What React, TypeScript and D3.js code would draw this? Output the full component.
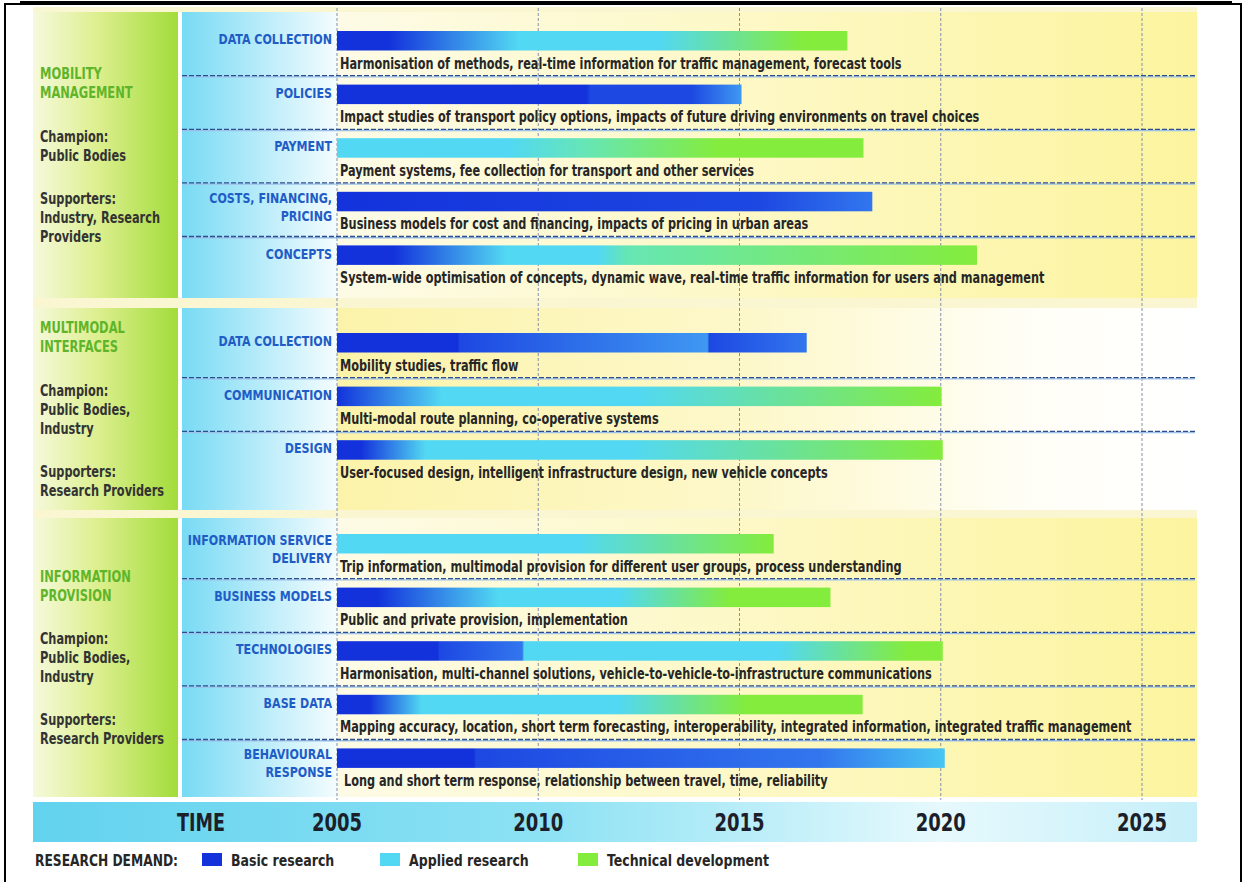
import React from "react";
import * as d3 from "d3";

// ---------------- DATA ----------------
const years = [2005, 2010, 2015, 2020, 2025];

const sectionTitles = [
  ["MOBILITY", "MANAGEMENT"],
  ["MULTIMODAL", "INTERFACES"],
  ["INFORMATION", "PROVISION"],
];
const sectionChampions = [
  ["Public Bodies"],
  ["Public Bodies,", "Industry"],
  ["Public Bodies,", "Industry"],
];
const sectionSupporters = [
  ["Industry, Research", "Providers"],
  ["Research Providers"],
  ["Research Providers"],
];

const themeSection = [0, 0, 0, 0, 0, 1, 1, 1, 2, 2, 2, 2, 2];
const themeLabels = [
  ["DATA COLLECTION"],
  ["POLICIES"],
  ["PAYMENT"],
  ["COSTS, FINANCING,", "PRICING"],
  ["CONCEPTS"],
  ["DATA COLLECTION"],
  ["COMMUNICATION"],
  ["DESIGN"],
  ["INFORMATION SERVICE", "DELIVERY"],
  ["BUSINESS MODELS"],
  ["TECHNOLOGIES"],
  ["BASE DATA"],
  ["BEHAVIOURAL", "RESPONSE"],
];
const themeDescriptions = [
  "Harmonisation of methods, real-time information  for traffic management, forecast tools",
  "Impact studies of transport policy options, impacts of future driving environments on travel choices",
  "Payment systems, fee collection for  transport and other services",
  "Business models for cost and financing, impacts of pricing in urban areas",
  "System-wide optimisation of concepts, dynamic wave, real-time traffic information for users and management",
  "Mobility studies, traffic flow",
  "Multi-modal route planning, co-operative systems",
  "User-focused design, intelligent infrastructure design, new vehicle concepts",
  "Trip information, multimodal provision for different user groups, process understanding",
  "Public and private provision, implementation",
  "Harmonisation, multi-channel solutions, vehicle-to-vehicle-to-infrastructure communications",
  "Mapping accuracy, location, short term forecasting, interoperability, integrated information, integrated traffic management",
  "Long and short term response, relationship between travel, time, reliability",
];
const themeStart = [2005, 2005, 2005, 2005, 2005, 2005, 2005, 2005, 2005, 2005, 2005, 2005, 2005];
const themeEnd = [2017.68, 2015.05, 2018.08, 2018.3, 2020.9, 2016.67, 2020.02, 2020.05, 2015.85, 2017.26, 2020.05, 2018.06, 2020.1];

// research phase along each bar: [year, phase]
const themePhases: Array<Array<[number, string]>> = [
  [[2005, "B"], [2006.3, "B"], [2009.5, "A"], [2013, "A"], [2016.6, "T"], [2017.68, "T"]],
  [[2005, "B"], [2011.2, "B"], [2011.3, "B2"], [2013.8, "B2"], [2015.05, "L"]],
  [[2005, "A"], [2007.6, "A"], [2009.3, "A"], [2011.2, "TA"], [2014.5, "T"], [2018.08, "T"]],
  [[2005, "B"], [2015.5, "B2"], [2018.3, "B3"]],
  [[2005, "B"], [2006.4, "B"], [2009.2, "A"], [2011.5, "A"], [2012.2, "TA"], [2020.9, "T"]],
  [[2005, "B"], [2008, "B"], [2008.05, "B2"], [2014.2, "L"], [2014.25, "B2"], [2016.67, "B3"]],
  [[2005, "B"], [2007.6, "A"], [2012.5, "A"], [2020.02, "T"]],
  [[2005, "B"], [2005.6, "B"], [2007.2, "A"], [2012.3, "A"], [2020.05, "T"]],
  [[2005, "A"], [2011, "A"], [2015.85, "T"]],
  [[2005, "B"], [2006, "B"], [2009, "A"], [2012, "A"], [2014.8, "T"], [2017.26, "T"]],
  [[2005, "B"], [2007.5, "B"], [2007.55, "B2"], [2009.6, "B3"], [2009.65, "A"], [2016, "A"], [2019.2, "T"], [2020.05, "T"]],
  [[2005, "B"], [2005.8, "B"], [2007.1, "A"], [2012, "A"], [2015.2, "T"], [2018.06, "T"]],
  [[2005, "B"], [2008.4, "B"], [2008.45, "B2"], [2017, "B3"], [2020.1, "L2"]],
];

const legendLabels = ["Basic research", "Applied research", "Technical development"];
const legendPhases = ["B", "A", "T"];

// ---------------- STYLE / LAYOUT ----------------
const phaseColor: Record<string, string> = {
  B: "#1332dc",
  B2: "#1d48e2",
  B3: "#3276ee",
  L: "#3f98f2",
  L2: "#48c6f2",
  A: "#52d8f2",
  TA: "#66e6b4",
  T: "#84ec3c",
};

const W = 1251;
const H = 882;
const FONT = "'DejaVu Sans Condensed', 'Liberation Sans Narrow', sans-serif";
const greenCol = [33, 178];
const blueCol = [182, 337];
const plotRight = 1197;
const rowH = 53.6;
const panels = [
  { y0: 12, y1: 298, row0: 22.5 },
  { y0: 308, y1: 510, row0: 324.5 },
  { y0: 518, y1: 797, row0: 525.5 },
];
const panelGrad = ["gY1", "gY2", "gY1"];

type STProps = {
  x: number;
  y: number;
  sx: number;
  size: number;
  fill: string;
  anchor?: "start" | "middle" | "end";
  children: React.ReactNode;
};
function SText({ x, y, sx, size, fill, anchor = "start", children }: STProps) {
  return (
    <text
      transform={`translate(${x},${y}) scale(${sx},1)`}
      dy="0.36em"
      textAnchor={anchor}
      fontSize={size}
      fontWeight="bold"
      fill={fill}
    >
      {children}
    </text>
  );
}

export default function App() {
  const x = d3.scaleLinear().domain([2005, 2025]).range([337, 1142]);

  const rowIndexInSection: number[] = [];
  const counters = [0, 0, 0];
  themeSection.forEach((s) => {
    rowIndexInSection.push(counters[s]);
    counters[s] += 1;
  });
  const rowTop = (i: number) => panels[themeSection[i]].row0 + rowIndexInSection[i] * rowH;

  const lineH = 19;
  const groupGap = 43;

  return (
    <svg
      width={W}
      height={H}
      style={{ position: "absolute", left: 0, top: 0, background: "#fff" }}
      fontFamily={FONT}
    >
      <defs>
        <linearGradient id="gGreen" x1="0" x2="1" y1="0" y2="0">
          <stop offset="0" stopColor="#f6f9dc" />
          <stop offset="0.45" stopColor="#dcef8e" />
          <stop offset="1" stopColor="#a2dc3a" />
        </linearGradient>
        <linearGradient id="gBlue" x1="0" x2="1" y1="0" y2="0">
          <stop offset="0" stopColor="#78daf4" />
          <stop offset="0.55" stopColor="#bdedfa" />
          <stop offset="1" stopColor="#f4fcfe" />
        </linearGradient>
        <linearGradient id="gY1" x1="0" x2="1" y1="0" y2="0">
          <stop offset="0" stopColor="#fdfbe6" />
          <stop offset="0.5" stopColor="#fdf8c4" />
          <stop offset="1" stopColor="#fcf49e" />
        </linearGradient>
        <linearGradient id="gY2" x1="0" x2="1" y1="0" y2="0">
          <stop offset="0" stopColor="#fcf3aa" />
          <stop offset="0.5" stopColor="#fdf8cc" />
          <stop offset="0.8" stopColor="#fffef6" />
          <stop offset="1" stopColor="#ffffff" />
        </linearGradient>
        <linearGradient id="gTime" x1="0" x2="1" y1="0" y2="0">
          <stop offset="0" stopColor="#62d2ee" />
          <stop offset="0.45" stopColor="#8ee2f4" />
          <stop offset="0.78" stopColor="#e6f9fd" />
          <stop offset="1" stopColor="#c6eff9" />
        </linearGradient>
        {themeLabels.map((_, i) => {
          const s = themeStart[i];
          const e = themeEnd[i];
          return (
            <linearGradient key={i} id={`bar${i}`} x1="0" x2="1" y1="0" y2="0">
              {themePhases[i].map(([yr, ph], k) => (
                <stop key={k} offset={(yr - s) / (e - s)} stopColor={phaseColor[ph]} />
              ))}
            </linearGradient>
          );
        })}
      </defs>

      {/* frame */}
      <rect x={5} y={4} width={1236} height={H} fill="none" stroke="#000" strokeWidth={2} />
      <rect x={20} y={1} width={1212} height={3} fill="#000" />

      {/* base pale background */}
      <rect x={greenCol[0]} y={7} width={plotRight - greenCol[0]} height={797 - 7} fill="#fbf6d2" />

      {/* panels */}
      {panels.map((p, k) => (
        <g key={k}>
          <rect x={greenCol[0]} y={p.y0} width={greenCol[1] - greenCol[0]} height={p.y1 - p.y0} fill="url(#gGreen)" />
          <rect x={greenCol[1]} y={p.y0} width={blueCol[0] - greenCol[1]} height={p.y1 - p.y0} fill="#ffffff" />
          <rect x={blueCol[0]} y={p.y0} width={blueCol[1] - blueCol[0]} height={p.y1 - p.y0} fill="url(#gBlue)" />
          <rect x={blueCol[1]} y={p.y0} width={plotRight - blueCol[1]} height={p.y1 - p.y0} fill={`url(#${panelGrad[k]})`} />
        </g>
      ))}
      <rect x={plotRight} y={panels[1].y0} width={1240 - plotRight} height={panels[1].y1 - panels[1].y0} fill="#fff" />

      {/* vertical year gridlines */}
      {years.map((yr) => (
        <line
          key={yr}
          x1={x(yr)}
          x2={x(yr)}
          y1={8}
          y2={800}
          stroke="#8290aa"
          strokeWidth={1}
          strokeDasharray="3,2"
        />
      ))}

      {/* row separators */}
      {themeLabels.map((_, i) => {
        const s = themeSection[i];
        const isLast = i === themeSection.length - 1 || themeSection[i + 1] !== s;
        if (isLast) return null;
        const y = rowTop(i) + rowH;
        return (
          <g key={`sep${i}`}>
            <line x1={blueCol[0]} x2={plotRight - 2} y1={y + 0.8} y2={y + 0.8} stroke="#9cc0e8" strokeWidth={1.4} />
            <line x1={blueCol[0]} x2={plotRight - 2} y1={y - 0.4} y2={y - 0.4} stroke="#2c4d8e" strokeWidth={1.3} strokeDasharray="5,2" />
          </g>
        );
      })}

      {/* bars */}
      {themeLabels.map((_, i) => {
        const t = rowTop(i);
        return (
          <rect
            key={`bar${i}`}
            x={x(themeStart[i])}
            y={t + 8.5}
            width={x(themeEnd[i]) - x(themeStart[i])}
            height={19.5}
            fill={`url(#bar${i})`}
          />
        );
      })}

      {/* row labels */}
      {themeLabels.map((lines, i) => {
        const t = rowTop(i);
        const ys = lines.length === 1 ? [t + 16.5] : [t + 14, t + 32];
        return (
          <g key={`lab${i}`}>
            {lines.map((ln, k) => (
              <SText key={k} x={332} y={ys[k]} sx={0.85} size={14.5} fill="#1f5cc6" anchor="end">
                {ln}
              </SText>
            ))}
          </g>
        );
      })}

      {/* descriptions */}
      {themeDescriptions.map((d, i) => (
        <SText key={`desc${i}`} x={i === 12 ? 344 : 340} y={rowTop(i) + 40.5} sx={0.81} size={15.5} fill="#262626">
          {d}
        </SText>
      ))}

      {/* section side text */}
      {panels.map((p, k) => {
        const groups = [
          { lines: sectionTitles[k], color: "#5fb52a", size: 15, sx: 0.85 },
          { lines: ["Champion:", ...sectionChampions[k]], color: "#333", size: 15.5, sx: 0.815 },
          { lines: ["Supporters:", ...sectionSupporters[k]], color: "#333", size: 15.5, sx: 0.815 },
        ];
        const span = groups.reduce((a, g) => a + (g.lines.length - 1) * lineH, 0) + groupGap * (groups.length - 1);
        let cy = (p.y0 + p.y1) / 2 - span / 2;
        const out: React.ReactElement[] = [];
        groups.forEach((g, gi) => {
          g.lines.forEach((ln, li) => {
            out.push(
              <SText key={`${gi}-${li}`} x={40} y={cy} sx={g.sx} size={g.size} fill={g.color}>
                {ln}
              </SText>
            );
            if (li < g.lines.length - 1) cy += lineH;
          });
          cy += groupGap;
        });
        return <g key={`side${k}`}>{out}</g>;
      })}

      {/* time band */}
      <rect x={greenCol[0]} y={802} width={plotRight - greenCol[0]} height={40} fill="url(#gTime)" />
      <SText x={201} y={822} sx={0.78} size={25} fill="#1c1f2a" anchor="middle">
        TIME
      </SText>
      {years.map((yr) => (
        <SText key={`t${yr}`} x={x(yr)} y={822} sx={0.8} size={25} fill="#1c1f2a" anchor="middle">
          {yr}
        </SText>
      ))}

      {/* legend */}
      <SText x={35} y={860} sx={0.88} size={15.5} fill="#262626">
        RESEARCH DEMAND:
      </SText>
      {legendLabels.map((lab, i) => {
        const lx = [202, 380, 578][i];
        return (
          <g key={`lg${i}`}>
            <rect x={lx} y={853} width={20} height={13} fill={phaseColor[legendPhases[i]]} />
            <SText x={lx + 29} y={860} sx={0.9} size={15.5} fill="#262626">
              {lab}
            </SText>
          </g>
        );
      })}
    </svg>
  );
}
